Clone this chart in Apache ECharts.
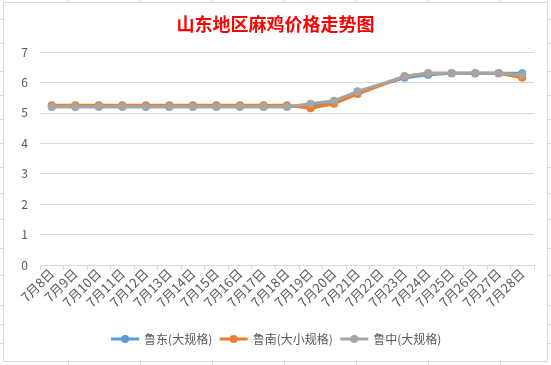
<!DOCTYPE html>
<html>
<head>
<meta charset="utf-8">
<script src="https://cdn.jsdelivr.net/npm/echarts@6/dist/echarts.min.js"></script>
<style>html,body{margin:0;padding:0;background:#fff;}#c{width:551px;height:365px;}</style>
</head>
<body>
<div id="c"></div>
<script>
const categories = ['7月8日','7月9日','7月10日','7月11日','7月12日','7月13日','7月14日','7月15日','7月16日','7月17日','7月18日','7月19日','7月20日','7月21日','7月22日','7月23日','7月24日','7月25日','7月26日','7月27日','7月28日'];
const seriesNames = ['鲁东(大规格)','鲁南(大小规格)','鲁中(大规格)'];
const ludong = [5.2,5.2,5.2,5.2,5.2,5.2,5.2,5.2,5.2,5.2,5.2,5.25,5.35,5.7,null,6.15,6.25,6.3,6.3,6.3,6.3];
const lunan  = [5.25,5.25,5.25,5.25,5.25,5.25,5.25,5.25,5.25,5.25,5.25,5.15,5.3,5.62,null,6.2,6.3,6.3,6.3,6.3,6.15];
const luzhong= [5.2,5.2,5.2,5.2,5.2,5.2,5.2,5.2,5.2,5.2,5.2,5.3,5.4,5.7,null,6.2,6.3,6.3,6.3,6.3,6.25];
const yTicks = [0,1,2,3,4,5,6,7];

const colors = ['#5B9BD5','#ED7D31','#A5A5A5'];
const font = '"Microsoft YaHei","Noto Sans CJK SC",sans-serif';

// decorative spreadsheet cell stubs around chart frame
const frameColor = '#d9d9d9';
const colX = [68,140,212,284,356,428,500];
const rowY = [19,43,71,95,119,143,167,193,219,248,275,305,324,343];
const gfx = [];
colX.forEach(x => {
  gfx.push({type:'line', shape:{x1:x+0.5,y1:0,x2:x+0.5,y2:2}, style:{stroke:frameColor,lineWidth:1}, silent:true});
  gfx.push({type:'line', shape:{x1:x+0.5,y1:362,x2:x+0.5,y2:365}, style:{stroke:frameColor,lineWidth:1}, silent:true});
});
rowY.forEach(y => {
  gfx.push({type:'line', shape:{x1:0,y1:y+0.5,x2:3,y2:y+0.5}, style:{stroke:frameColor,lineWidth:1}, silent:true});
  gfx.push({type:'line', shape:{x1:548,y1:y+0.5,x2:551,y2:y+0.5}, style:{stroke:frameColor,lineWidth:1}, silent:true});
});
gfx.push({type:'rect', shape:{x:3.5,y:2.5,width:544,height:359}, style:{fill:'none',stroke:frameColor,lineWidth:1}, silent:true, z:-1});

const data = [ludong, lunan, luzhong];
const chart = echarts.init(document.getElementById('c'), null, {renderer:'canvas'});
chart.setOption({
  animation:false,
  color: colors,
  graphic: gfx,
  title: {
    text:'山东地区麻鸡价格走势图', left:'center', top:10,
    textStyle:{color:'#FF0000', fontSize:18, fontWeight:'bold', fontFamily:font}
  },
  legend: {
    bottom:15, left:'center', itemWidth:28, itemHeight:10, itemGap:6,
    data: seriesNames,
    lineStyle:{width:3},
    textStyle:{color:'#595959', fontSize:12, fontFamily:font}
  },
  grid: {left:40, right:17, top:52, bottom:100},
  xAxis: {
    type:'category', data:categories, boundaryGap:true,
    axisLine:{lineStyle:{color:'#d9d9d9'}},
    axisTick:{show:true, length:5, inside:false, lineStyle:{color:'#d9d9d9'}, alignWithLabel:false},
    axisLabel:{rotate:45, interval:0, color:'#595959', fontSize:13, fontFamily:font, margin:6}
  },
  yAxis: {
    type:'value', min:0, max:7, interval:1,
    axisLine:{show:false}, axisTick:{show:false},
    splitLine:{lineStyle:{color:'#d9d9d9'}},
    axisLabel:{color:'#595959', fontSize:12, fontFamily:font, margin:12,
      formatter: v => yTicks.includes(v) ? String(v) : ''}
  },
  series: seriesNames.map((n,i) => ({
    name:n, type:'line', data:data[i], connectNulls:true,
    symbol:'circle', symbolSize:8,
    lineStyle:{width:3, color:colors[i]},
    itemStyle:{color:colors[i]},
    z: 2+i
  }))
});
</script>
</body>
</html>
